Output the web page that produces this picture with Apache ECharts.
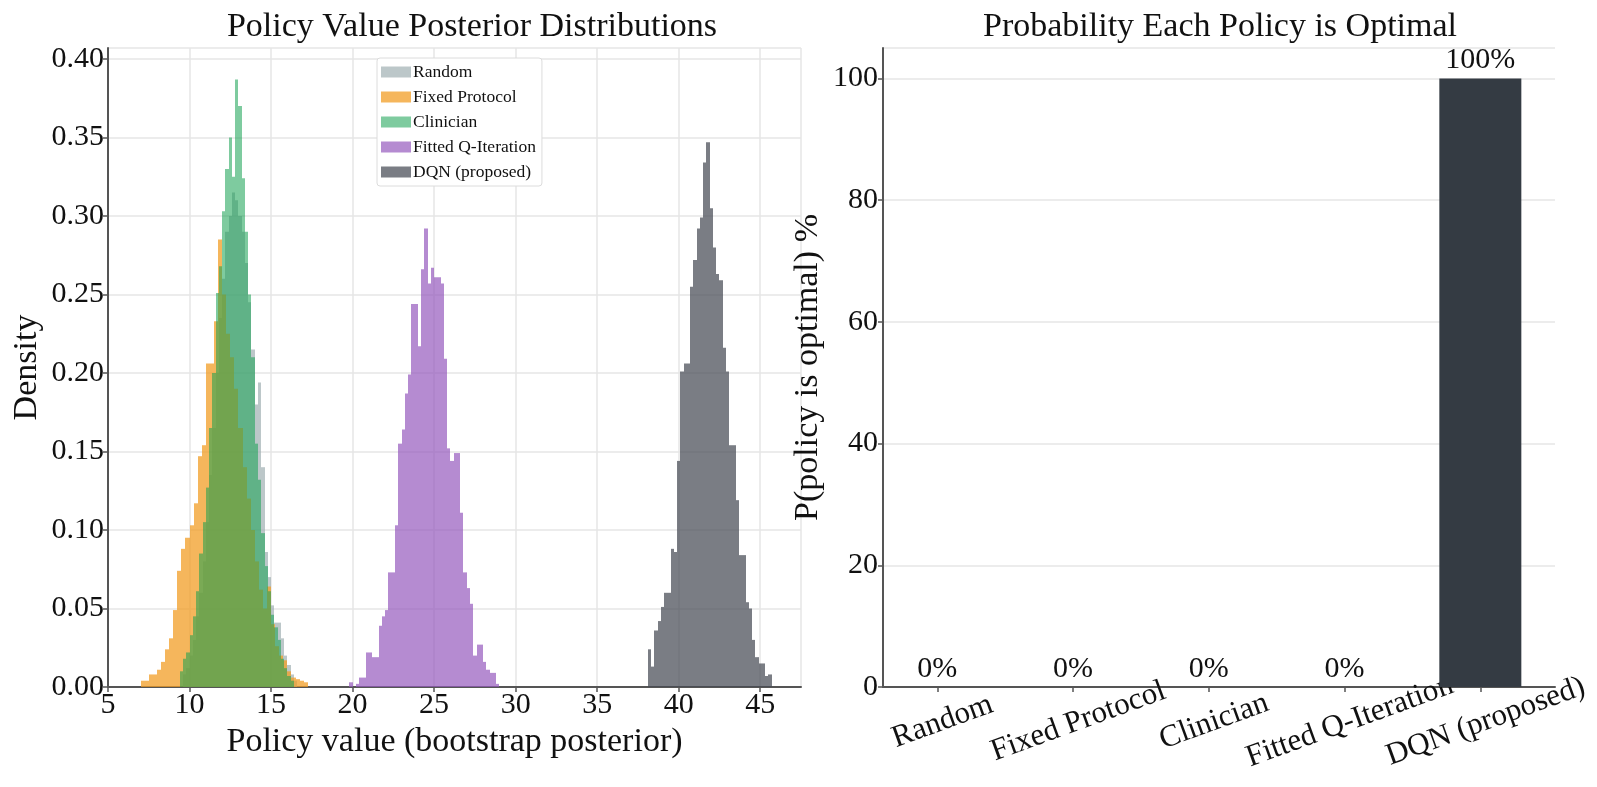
<!DOCTYPE html>
<html>
<head>
<meta charset="utf-8">
<title>Policy value posteriors</title>
<script src="https://cdn.jsdelivr.net/npm/echarts@6.0.0/dist/echarts.min.js"></script>
<style>
  html, body { margin: 0; padding: 0; background: #fff; }
  #chart { width: 1597px; height: 787px; }
</style>
</head>
<body>
<div id="chart"></div>
<script>
// histogram bins: start of first bin, bin width, density per bin
var randomStart = 9.6, randomWidth = 0.2;
var randomDensity = [0.008, 0.012, 0.020, 0.030, 0.045, 0.060, 0.080, 0.105, 0.135, 0.165,
    0.200, 0.235, 0.260, 0.290, 0.300, 0.315, 0.310, 0.300, 0.290, 0.270,
    0.245, 0.215, 0.180, 0.194, 0.140, 0.086, 0.070, 0.052, 0.041, 0.041,
    0.031, 0.020, 0.014, 0.008, 0.004];

var fixedStart = 7.0, fixedWidth = 0.25;
var fixedDensity = [0.004, 0.004, 0.008, 0.008, 0.011, 0.016, 0.024, 0.031, 0.049, 0.074,
    0.088, 0.095, 0.103, 0.117, 0.147, 0.154, 0.206, 0.206, 0.233, 0.285,
    0.250, 0.225, 0.210, 0.190, 0.165, 0.140, 0.120, 0.100, 0.080, 0.062,
    0.050, 0.064, 0.040, 0.026, 0.020, 0.017, 0.010, 0.006, 0.005, 0.004, 0.003];

var clinicianStart = 9.4, clinicianWidth = 0.2;
var clinicianDensity = [0.010, 0.018, 0.022, 0.033, 0.045, 0.061, 0.085, 0.105, 0.127, 0.165,
    0.200, 0.251, 0.268, 0.303, 0.330, 0.350, 0.325, 0.387, 0.370, 0.324,
    0.290, 0.250, 0.210, 0.155, 0.132, 0.098, 0.077, 0.061, 0.046, 0.038,
    0.030, 0.018, 0.012, 0.007, 0.004];

var fqiStart = 19.8, fqiWidth = 0.2;
var fqiDensity = [0.003, 0.000, 0.002, 0.006, 0.006, 0.022, 0.022, 0.019, 0.019, 0.039,
    0.045, 0.049, 0.073, 0.073, 0.103, 0.155, 0.164, 0.187, 0.199, 0.244,
    0.244, 0.217, 0.266, 0.292, 0.257, 0.267, 0.261, 0.261, 0.257, 0.209,
    0.152, 0.144, 0.149, 0.149, 0.111, 0.073, 0.063, 0.053, 0.020, 0.027,
    0.027, 0.016, 0.011, 0.009, 0.009, 0.002];

var dqnStart = 38.1, dqnWidth = 0.2;
var dqnDensity = [0.024, 0.013, 0.036, 0.042, 0.051, 0.060, 0.060, 0.088, 0.086, 0.144,
    0.201, 0.206, 0.206, 0.255, 0.272, 0.292, 0.299, 0.334, 0.347, 0.305,
    0.280, 0.263, 0.259, 0.216, 0.201, 0.154, 0.154, 0.119, 0.084, 0.084,
    0.054, 0.050, 0.030, 0.019, 0.015, 0.015, 0.007, 0.008];

var policyNames = ['Random', 'Fixed Protocol', 'Clinician', 'Fitted Q-Iteration', 'DQN (proposed)'];
var optimalPct = [0, 0, 0, 0, 100];

var serif = "'Liberation Serif', 'Times New Roman', serif";

function toBins(start, width, dens) {
    return dens.map(function (d, i) {
        return [start + i * width, start + (i + 1) * width, d];
    });
}

// snap bin edges to whole pixels so neighbouring bins meet without seams
function renderBin(params, api) {
    var top = api.coord([api.value(0), api.value(2)]);
    var bot = api.coord([api.value(1), 0]);
    var x0 = Math.round(top[0]), x1 = Math.round(bot[0]);
    return {
        type: 'rect',
        shape: { x: x0, y: top[1], width: x1 - x0, height: bot[1] - top[1] },
        style: { fill: api.visual('color') }
    };
}

function histSeries(name, color, bins) {
    return {
        name: name,
        type: 'custom',
        xAxisIndex: 0,
        yAxisIndex: 0,
        renderItem: renderBin,
        itemStyle: { color: color },
        encode: { x: [0, 1], y: 2 },
        clip: true,
        data: bins
    };
}

var axisLine = { show: true, onZero: false, lineStyle: { color: '#555', width: 2 } };
var tick = { show: true, length: 5, lineStyle: { color: '#555', width: 1.5 } };
var split = { show: true, lineStyle: { color: '#e6e6e6', width: 1.5 } };
var tickFont = { fontFamily: serif, fontSize: 30, color: '#111' };
var nameFont = { fontFamily: serif, fontSize: 34, color: '#111' };

var chart = echarts.init(document.getElementById('chart'));
chart.setOption({
    animation: false,
    backgroundColor: '#fff',
    title: [
        { text: 'Policy Value Posterior Distributions', left: 467, top: 5, textAlign: 'center',
          textStyle: { fontFamily: serif, fontSize: 34, fontWeight: 'normal', color: '#111' } },
        { text: 'Probability Each Policy is Optimal', left: 1215, top: 5, textAlign: 'center',
          textStyle: { fontFamily: serif, fontSize: 34, fontWeight: 'normal', color: '#111' } }
    ],
    legend: {
        data: policyNames,
        orient: 'vertical',
        left: 377,
        top: 58,
        icon: 'rect',
        itemWidth: 30,
        itemHeight: 11,
        itemGap: 7,
        padding: [5, 6, 5, 4],
        backgroundColor: '#fff',
        borderColor: '#dcdcdc',
        borderWidth: 1,
        borderRadius: 3,
        textStyle: { fontFamily: serif, fontSize: 17.5, color: '#111', padding: [0, 0, 0, -3] }
    },
    grid: [
        { left: 108, top: 48, width: 693, height: 639 },
        { left: 883, top: 48, width: 672, height: 639 }
    ],
    xAxis: [
        {
            gridIndex: 0, type: 'value', min: 5, max: 47.5, interval: 5,
            name: 'Policy value (bootstrap posterior)', nameLocation: 'middle', nameGap: 31,
            nameTextStyle: nameFont,
            axisLine: axisLine, axisTick: tick, splitLine: split,
            axisLabel: Object.assign({ margin: 3, showMaxLabel: false }, tickFont)
        },
        {
            gridIndex: 1, type: 'value', min: -0.4, max: 4.55,
            axisLine: axisLine,
            axisTick: { show: true, length: 5, customValues: [0, 1, 2, 3, 4], lineStyle: { color: '#555', width: 1.5 } },
            splitLine: { show: false },
            axisLabel: Object.assign({
                customValues: [0, 1, 2, 3, 4],
                rotate: 20, align: 'center', verticalAlign: 'top', margin: 20,
                formatter: function (v) { return policyNames[Math.round(v)]; }
            }, tickFont, { fontSize: 31 })
        }
    ],
    yAxis: [
        {
            gridIndex: 0, type: 'value', min: 0, max: 0.407, interval: 0.05,
            name: 'Density', nameLocation: 'middle', nameGap: 64,
            nameTextStyle: nameFont,
            axisLine: axisLine, axisTick: tick, splitLine: split,
            axisLabel: Object.assign({ margin: 4, showMaxLabel: false,
                formatter: function (v) { return v.toFixed(2); } }, tickFont)
        },
        {
            gridIndex: 1, type: 'value', min: 0, max: 105, interval: 20,
            name: 'P(policy is optimal) %', nameLocation: 'middle', nameGap: 58,
            nameTextStyle: nameFont,
            axisLine: axisLine, axisTick: tick, splitLine: split,
            axisLabel: Object.assign({ margin: 5, showMaxLabel: false }, tickFont)
        }
    ],
    series: [
        histSeries('Random', 'rgba(160,175,178,0.7)', toBins(randomStart, randomWidth, randomDensity)),
        histSeries('Fixed Protocol', 'rgba(242,158,38,0.75)', toBins(fixedStart, fixedWidth, fixedDensity)),
        histSeries('Clinician', 'rgba(20,160,80,0.55)', toBins(clinicianStart, clinicianWidth, clinicianDensity)),
        histSeries('Fitted Q-Iteration', 'rgba(150,90,190,0.7)', toBins(fqiStart, fqiWidth, fqiDensity)),
        histSeries('DQN (proposed)', 'rgba(70,75,85,0.72)', toBins(dqnStart, dqnWidth, dqnDensity)),
        {
            type: 'bar',
            xAxisIndex: 1,
            yAxisIndex: 1,
            barWidth: 82,
            itemStyle: { color: '#343b43' },
            label: {
                show: true, position: 'top', distance: 3,
                fontFamily: serif, fontSize: 30, color: '#111',
                formatter: function (p) { return p.value[1] + '%'; }
            },
            data: optimalPct.map(function (v, i) { return [i, v]; })
        }
    ]
});
</script>
</body>
</html>
